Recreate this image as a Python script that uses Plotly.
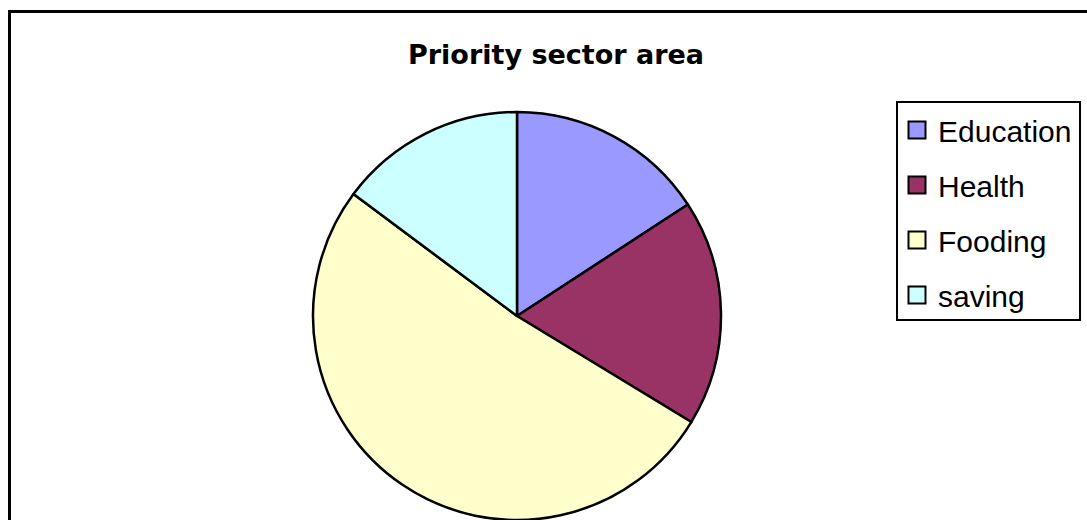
import plotly.graph_objects as go

# Share of spending by priority sector (percent)
sectors = ["Education", "Health", "Fooding", "saving"]
shares = [15.8, 17.9, 51.5, 14.8]
colors = ["#9999FF", "#993366", "#FFFFCC", "#CCFFFF"]
title_text = "Priority sector area"

W, H = 1087, 520


def px_x(x):
    return x / W


def px_y(y):
    return 1 - y / H


fig = go.Figure()

fig.add_trace(go.Pie(
    labels=sectors,
    values=shares,
    sort=False,
    direction="clockwise",
    rotation=0,
    marker=dict(colors=colors, line=dict(color="black", width=2.5)),
    textinfo="none",
    hoverinfo="label+percent",
    showlegend=False,
    domain=dict(x=[px_x(313), px_x(721)], y=[0, 408 / H]),
))

shapes = []
annotations = []

# outer chart frame (runs off the right and bottom edges)
shapes.append(dict(type="rect", xref="paper", yref="paper",
                   x0=px_x(9.5), x1=px_x(1100), y0=px_y(540), y1=px_y(11.5),
                   line=dict(color="black", width=3), fillcolor="rgba(0,0,0,0)"))

# legend box
shapes.append(dict(type="rect", xref="paper", yref="paper",
                   x0=px_x(897), x1=px_x(1080), y0=px_y(320), y1=px_y(102),
                   line=dict(color="black", width=2), fillcolor="white"))

item_y = [130, 185, 240, 295]
for name, col, yc in zip(sectors, colors, item_y):
    shapes.append(dict(type="rect", xref="paper", yref="paper",
                       x0=px_x(908.5), x1=px_x(925.5),
                       y0=px_y(yc + 8.5), y1=px_y(yc - 8.5),
                       line=dict(color="black", width=2), fillcolor=col))
    annotations.append(dict(text=name, xref="paper", yref="paper",
                            x=px_x(936), y=px_y(yc + 1), xanchor="left", yanchor="middle",
                            showarrow=False,
                            font=dict(family="Liberation Sans, Arial", size=30, color="black")))

annotations.append(dict(text="<b>" + title_text + "</b>", xref="paper", yref="paper",
                        x=px_x(556), y=px_y(55), xanchor="center", yanchor="middle",
                        showarrow=False,
                        font=dict(family="DejaVu Sans", size=27, color="black")))

fig.update_layout(
    width=W, height=H,
    margin=dict(l=0, r=0, t=0, b=0),
    paper_bgcolor="white",
    plot_bgcolor="white",
    shapes=shapes,
    annotations=annotations,
    showlegend=False,
)

fig.write_html("out.html")
